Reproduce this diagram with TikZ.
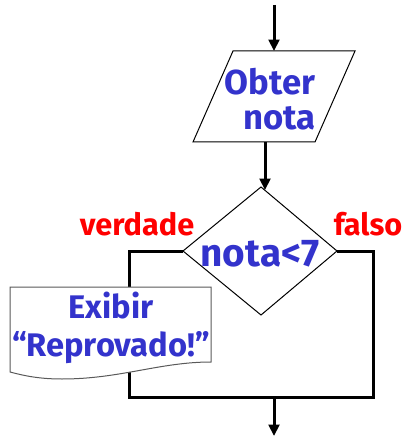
\documentclass[tikz,border=0pt]{standalone}
\usepackage{fontspec}
\setmainfont{Fira Sans}
\usepackage{tikz}
\usetikzlibrary{arrows.meta}
\definecolor{txtblue}{RGB}{51,51,204}
\definecolor{txtred}{RGB}{255,0,0}

\begin{document}
\begin{tikzpicture}[x=0.75pt,y=0.75pt,yscale=-1,xscale=1,
  flowline/.style={line width=2.25pt},
  flowarrow/.style={flowline,-{Triangle[length=8.5pt,width=8pt]}},
  outline/.style={line width=0.75pt},
  bluetxt/.style={text=txtblue,inner sep=0pt,align=center},
  redtxt/.style={text=txtred,font=\bfseries\fontsize{23}{27}\selectfont,inner sep=0pt,anchor=base}]
\useasboundingbox (0,0) rectangle (414,438);

%Coordinates of the flow
\coordinate (start) at (274,5);
\coordinate (inTop) at (274,51);
\coordinate (inBot) at (265,142);
\coordinate (dIn) at (265,190);
\coordinate (dTop) at (261,187);
\coordinate (dRight) at (337,251);
\coordinate (dBot) at (261,315);
\coordinate (dLeft) at (183,251);
\coordinate (yesCorner) at (129,251);
\coordinate (joinLeft) at (129,397);
\coordinate (joinRight) at (373,397);
\coordinate (noCorner) at (373,251);
\coordinate (join) at (274,397);
\coordinate (stop) at (274,436);

%Shape: Parallelogram
\draw[outline] (233,51) -- (355,51) -- (315,142) -- (193,142) -- cycle ;
%Shape: Diamond
\draw[outline] (dTop) -- (dRight) -- (dBot) -- (dLeft) -- cycle ;

%Straight Lines
\draw[flowarrow] (start) -- (inTop) ;
\draw[flowarrow] (inBot) -- (dIn) ;
\draw[flowline] (dLeft) -- (yesCorner) -- (joinLeft) -- (joinRight) -- (noCorner) -- (dRight) ;
\draw[flowarrow] (join) -- (stop) ;

%Shape: Document
\draw[outline,draw=black!65,fill=white] (10,287) -- (211,287) -- (211,362) .. controls (160,362) and (120,379) .. (62,379) .. controls (40,379) and (25,376) .. (10,372) -- cycle ;

% Text Node
\node[bluetxt,font=\bfseries\fontsize{26}{26.25}\selectfont] (readTxt) at (270,99) {Obter\\\hspace{0.55em}nota};
% Text Node
\node[bluetxt,font=\bfseries\fontsize{29}{29}\selectfont] (testTxt) at (260,254) {nota<7};
% Text Node
\node[bluetxt,font=\bfseries\fontsize{24.5}{29}\selectfont] (showTxt) at (111,328) {Exibir\\“Reprovado!”};
% Text Node
\node[redtxt] (yesTxt) at (137,235) {verdade};
% Text Node
\node[redtxt] (noTxt) at (368,235) {falso};
\end{tikzpicture}
\end{document}
